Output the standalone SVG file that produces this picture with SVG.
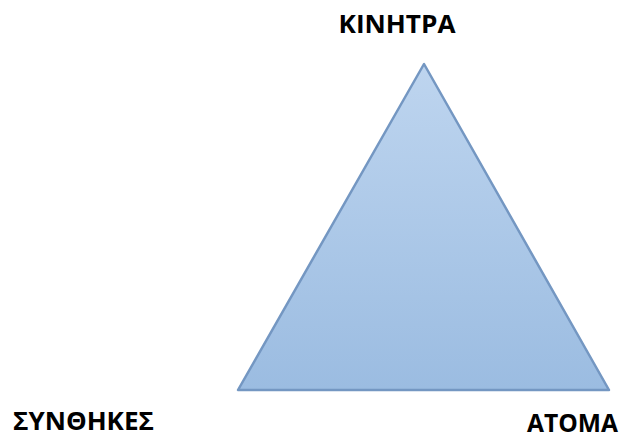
<svg xmlns="http://www.w3.org/2000/svg" width="626" height="440" viewBox="0 0 626 440">
<defs>
<linearGradient id="g" x1="0" y1="0" x2="0" y2="1">
<stop offset="0" stop-color="#bed5ef"/>
<stop offset="1" stop-color="#9bbce1"/>
</linearGradient>
<style>
.lbl{font-family:"Open Sans","Noto Sans","DejaVu Sans",sans-serif;font-weight:bold;font-size:25px;fill:#000}
</style>
</defs>
<rect width="626" height="440" fill="#fff"/>
<g id="triangle">
<polygon points="424,64 238,390 609,390" fill="url(#g)" stroke="#7497c2" stroke-width="2.5" stroke-linejoin="round"/>
</g>
<g id="kinhtra"><text class="lbl" x="397" y="33" text-anchor="middle" textLength="117" lengthAdjust="spacingAndGlyphs">ΚΙΝΗΤΡΑ</text></g>
<g id="synthikes"><text class="lbl" x="13" y="430" textLength="141" lengthAdjust="spacingAndGlyphs">ΣΥΝΘΗΚΕΣ</text></g>
<g id="atoma"><text class="lbl" x="527" y="432" textLength="91" lengthAdjust="spacingAndGlyphs">ΑΤΟΜΑ</text></g>
<g id="connectors"/>
</svg>
